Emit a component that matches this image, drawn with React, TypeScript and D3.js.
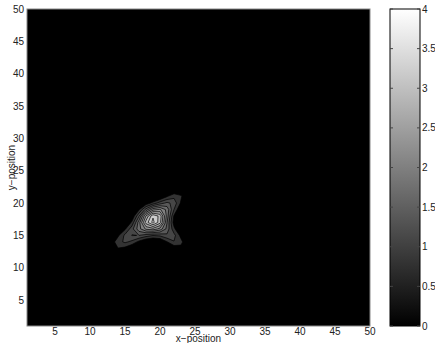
import * as d3 from "d3";
import { useEffect, useRef } from "react";

// field described as a few gaussian bumps
const bumpX = [18.9, 15.9, 21.2, 21.7];
const bumpY = [17.5, 15.0, 19.6, 14.8];
const bumpAmp = [2.3, 1.3, 1.3, 1.2];
const bumpSigMajor = [1.5, 3.0, 2.5, 2.2];
const bumpSigMinor = [1.5, 1.2, 1.1, 1.05];
const bumpAngle = [0, 36, 45, -45];

const levels = [0.8, 1.1, 1.4, 1.7, 2.0, 2.3, 2.6, 2.9, 3.2, 3.5, 3.8];
const xTicks = [5, 10, 15, 20, 25, 30, 35, 40, 45, 50];
const yTicks = [5, 10, 15, 20, 25, 30, 35, 40, 45, 50];
const cbTicks = [0, 0.5, 1, 1.5, 2, 2.5, 3, 3.5, 4];

const N = 50;

export default function App() {
  const ref = useRef<SVGSVGElement>(null);

  useEffect(() => {
    const svg = d3.select(ref.current);
    svg.selectAll("*").remove();

    const left = 27, right = 370, top = 9, bottom = 326;
    const x = d3.scaleLinear().domain([1, 50]).range([left, right]);
    const y = d3.scaleLinear().domain([1, 50]).range([bottom, top]);
    const gray = d3.scaleLinear<string>().domain([0, 4]).range(["#000", "#fff"]).clamp(true);

    // build grid
    const values: number[] = new Array(N * N).fill(0);
    for (let j = 0; j < N; j++) {
      for (let i = 0; i < N; i++) {
        const px = i + 1, py = j + 1;
        let v = 0;
        bumpX.forEach((cx, k) => {
          const a = (bumpAngle[k] * Math.PI) / 180;
          const dx = px - cx, dy = py - bumpY[k];
          const u = dx * Math.cos(a) + dy * Math.sin(a);
          const w = -dx * Math.sin(a) + dy * Math.cos(a);
          v += bumpAmp[k] * Math.exp(-(u * u) / (2 * bumpSigMajor[k] ** 2) - (w * w) / (2 * bumpSigMinor[k] ** 2));
        });
        values[j * N + i] = v;
      }
    }

    const contours = d3.contours().size([N, N]).thresholds(levels)(values);

    const g = svg.append("g");
    g.append("rect")
      .attr("x", left).attr("y", top)
      .attr("width", right - left).attr("height", bottom - top)
      .attr("fill", "#000");

    const proj = d3.geoTransform({
      point: function (px: number, py: number) {
        this.stream.point(x(px + 0.5), y(py + 0.5));
      },
    });
    const path = d3.geoPath(proj);

    g.selectAll("path.c")
      .data(contours)
      .join("path")
      .attr("class", "c")
      .attr("d", (d) => path(d as any))
      .attr("fill", (d) => gray(d.value))
      .attr("stroke", "#000")
      .attr("stroke-width", 0.7);

    g.append("rect")
      .attr("x", left).attr("y", top)
      .attr("width", right - left).attr("height", bottom - top)
      .attr("fill", "none").attr("stroke", "#888").attr("stroke-width", 1);

    const font = "Liberation Sans, Arial, sans-serif";

    svg.append("g").selectAll("text")
      .data(xTicks).join("text")
      .attr("x", (d) => x(d)).attr("y", 335)
      .attr("text-anchor", "middle")
      .attr("font-family", font).attr("font-size", 10)
      .attr("fill", "#222")
      .text((d) => d);

    svg.append("g").selectAll("text")
      .data(yTicks).join("text")
      .attr("x", 24).attr("y", (d) => y(d))
      .attr("dy", "0.35em")
      .attr("text-anchor", "end")
      .attr("font-family", font).attr("font-size", 10)
      .attr("fill", "#222")
      .text((d) => d);

    svg.append("text")
      .attr("x", (left + right) / 2).attr("y", 342)
      .attr("text-anchor", "middle")
      .attr("font-family", font).attr("font-size", 10)
      .attr("fill", "#222")
      .text("x\u2212position");

    svg.append("text")
      .attr("transform", `translate(15,${(top + bottom) / 2}) rotate(-90)`)
      .attr("text-anchor", "middle")
      .attr("font-family", font).attr("font-size", 10)
      .attr("fill", "#222")
      .text("y\u2212position");

    // colorbar
    const cbL = 390, cbR = 420;
    const cy = d3.scaleLinear().domain([0, 4]).range([bottom, top]);
    const defs = svg.append("defs");
    const grad = defs.append("linearGradient")
      .attr("id", "cbgrad")
      .attr("x1", 0).attr("y1", 1).attr("x2", 0).attr("y2", 0);
    grad.append("stop").attr("offset", 0).attr("stop-color", "#000");
    grad.append("stop").attr("offset", 1).attr("stop-color", "#fff");

    svg.append("rect")
      .attr("x", cbL).attr("y", top)
      .attr("width", cbR - cbL).attr("height", bottom - top)
      .attr("fill", "url(#cbgrad)")
      .attr("stroke", "#000").attr("stroke-width", 1);

    const cb = svg.append("g");
    cb.selectAll("line.l")
      .data(cbTicks).join("line")
      .attr("class", "l")
      .attr("x1", cbL).attr("x2", cbL + 3)
      .attr("y1", (d) => cy(d)).attr("y2", (d) => cy(d))
      .attr("stroke", "#444");
    cb.selectAll("line.r")
      .data(cbTicks).join("line")
      .attr("class", "r")
      .attr("x1", cbR - 3).attr("x2", cbR)
      .attr("y1", (d) => cy(d)).attr("y2", (d) => cy(d))
      .attr("stroke", "#444");
    cb.selectAll("text")
      .data(cbTicks).join("text")
      .attr("x", cbR + 2).attr("y", (d) => cy(d))
      .attr("dy", "0.35em")
      .attr("font-family", font).attr("font-size", 10)
      .attr("fill", "#222")
      .text((d) => d);
  }, []);

  return (
    <svg ref={ref} width={435} height={343} style={{ position: "absolute", left: 0, top: 0, background: "#fff" }} />
  );
}
